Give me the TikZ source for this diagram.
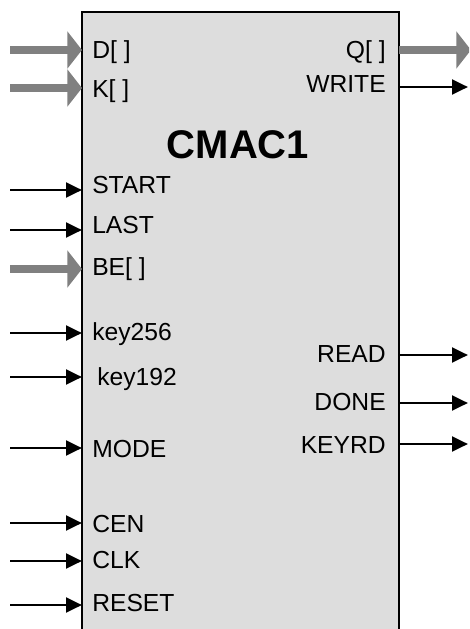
\documentclass[tikz,border=0pt]{standalone}
\usepackage{fontspec}
\setmainfont{Liberation Sans}
\usetikzlibrary{arrows.meta}
\definecolor{blockgray}{RGB}{221,221,221}
\definecolor{busgray}{RGB}{128,128,128}
\tikzset{
  block/.style={draw=black,line width=2.2pt,fill=blockgray,inner sep=0pt,outer sep=0pt},
  sig/.style={-{Triangle[length=12pt,width=11pt]},black,line width=2.2pt},
  bus/.style={-{Triangle[length=11pt,width=27.5pt]},busgray,line width=5.5pt},
  pin/.style={font=\fontsize{18.5}{22}\selectfont,inner sep=0pt,anchor=base west},
  pinout/.style={pin,anchor=base east},
  title/.style={font=\fontsize{30}{34}\selectfont\bfseries,inner sep=0pt,anchor=base},
}

\begin{document}
\begin{tikzpicture}[x=0.75pt,y=-0.75pt]
  \path[use as bounding box] (0,0) rectangle (469,629);
  \clip (0,0) rectangle (469,629);

  \node[block,anchor=north west,minimum width=237.75pt,minimum height=487.5pt] (cmac) at (82,12) {};
  \node[title] (name) at (238,158) {CMAC1};

  % inputs
  \node[pin] (d) at (92,58) {D[ ]};
  \node[pin] (k) at (92,97) {K[ ]};
  \node[pin] (start) at (92,193) {START};
  \node[pin] (last) at (92,233) {LAST};
  \node[pin] (be) at (92,275) {BE[ ]};
  \node[pin] (key256) at (92,340) {key256};
  \node[pin] (key192) at (97,385) {key192};
  \node[pin] (mode) at (92,457) {MODE};
  \node[pin] (cen) at (92,532) {CEN};
  \node[pin] (clk) at (92,568) {CLK};
  \node[pin] (reset) at (92,611) {RESET};

  % outputs
  \node[pinout] (q) at (386,58) {Q[ ]};
  \node[pinout] (write) at (386,92) {WRITE};
  \node[pinout] (read) at (386,362) {READ};
  \node[pinout] (done) at (386,410) {DONE};
  \node[pinout] (keyrd) at (386,453) {KEYRD};

  % free ends of the wires
  \coordinate (d-in) at (10,50);
  \coordinate (k-in) at (10,88);
  \coordinate (start-in) at (10,190);
  \coordinate (last-in) at (10,230);
  \coordinate (be-in) at (10,269);
  \coordinate (key256-in) at (10,333);
  \coordinate (key192-in) at (10,377);
  \coordinate (mode-in) at (10,448);
  \coordinate (cen-in) at (10,523);
  \coordinate (clk-in) at (10,561);
  \coordinate (reset-in) at (10,605);
  \coordinate (q-out) at (471,50);
  \coordinate (write-out) at (468,87);
  \coordinate (read-out) at (468,355);
  \coordinate (done-out) at (468,403);
  \coordinate (keyrd-out) at (468,444);

  \draw[bus] (d-in) -- (d-in -| cmac.west);
  \draw[bus] (k-in) -- (k-in -| cmac.west);
  \draw[sig] (start-in) -- (start-in -| cmac.west);
  \draw[sig] (last-in) -- (last-in -| cmac.west);
  \draw[bus] (be-in) -- (be-in -| cmac.west);
  \draw[sig] (key256-in) -- (key256-in -| cmac.west);
  \draw[sig] (key192-in) -- (key192-in -| cmac.west);
  \draw[sig] (mode-in) -- (mode-in -| cmac.west);
  \draw[sig] (cen-in) -- (cen-in -| cmac.west);
  \draw[sig] (clk-in) -- (clk-in -| cmac.west);
  \draw[sig] (reset-in) -- (reset-in -| cmac.west);

  \draw[bus] (q-out -| cmac.east) -- (q-out);
  \draw[sig] (write-out -| cmac.east) -- (write-out);
  \draw[sig] (read-out -| cmac.east) -- (read-out);
  \draw[sig] (done-out -| cmac.east) -- (done-out);
  \draw[sig] (keyrd-out -| cmac.east) -- (keyrd-out);
\end{tikzpicture}
\end{document}
